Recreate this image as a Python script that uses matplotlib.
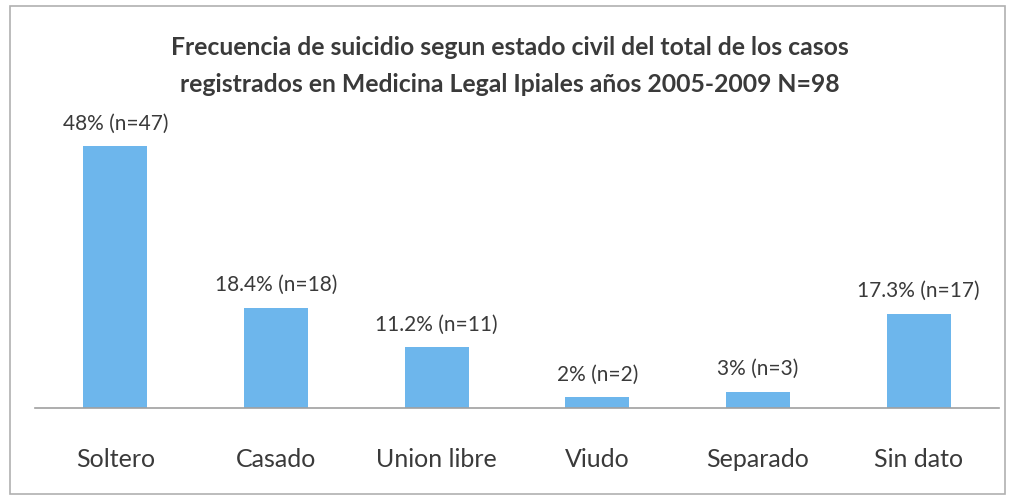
import matplotlib.pyplot as plt
from matplotlib.patches import Rectangle

plt.rcParams['font.family'] = ['Lato', 'DejaVu Sans']

# datos
categorias = ['Soltero', 'Casado', 'Union libre', 'Viudo', 'Separado', 'Sin dato']
porcentajes = [48, 18.4, 11.2, 2, 3, 17.3]
casos = [47, 18, 11, 2, 3, 17]
etiquetas = ['48% (n=47)', '18.4% (n=18)', '11.2% (n=11)', '2% (n=2)', '3% (n=3)', '17.3% (n=17)']
titulo = ('Frecuencia de suicidio segun estado civil del total de los casos\n'
          'registrados en Medicina Legal Ipiales años 2005-2009 N=98')

W, H = 1013, 498
fig = plt.figure(figsize=(W / 100, H / 100), dpi=100)

# marco de la figura
fig.patches.append(Rectangle((10 / W, 4 / H), 995 / W, 488 / H, transform=fig.transFigure,
                             fill=False, edgecolor='#b0b0b0', linewidth=1.2))

ax = fig.add_axes([35 / W, 1 - 408 / H, 964 / W, 288 / H])
x = range(len(categorias))
ax.bar(x, porcentajes, width=0.4, color='#6db6ec')
ax.set_xlim(-0.5, len(categorias) - 0.5)
ax.set_ylim(0, 48 * 288 / 262)

for i, (v, lab) in enumerate(zip(porcentajes, etiquetas)):
    ax.annotate(lab, (i, v), xytext=(0, 9), textcoords='offset points',
                ha='center', va='bottom', fontsize=15, color='#3a3a3a')

ax.set_xticks(list(x))
ax.set_xticklabels(categorias, fontsize=18, color='#3a3a3a')
ax.tick_params(axis='x', length=0, pad=29)
ax.set_yticks([])
for s in ['top', 'right', 'left']:
    ax.spines[s].set_visible(False)
ax.spines['bottom'].set_color('#a0a0a0')
ax.spines['bottom'].set_linewidth(1.2)

fig.text(510 / W, 1 - 66 / H, titulo, ha='center', va='center', fontsize=17.8,
         fontweight='bold', color='#3a3a3a', linespacing=1.7)

fig.savefig('out.png', dpi=100)
